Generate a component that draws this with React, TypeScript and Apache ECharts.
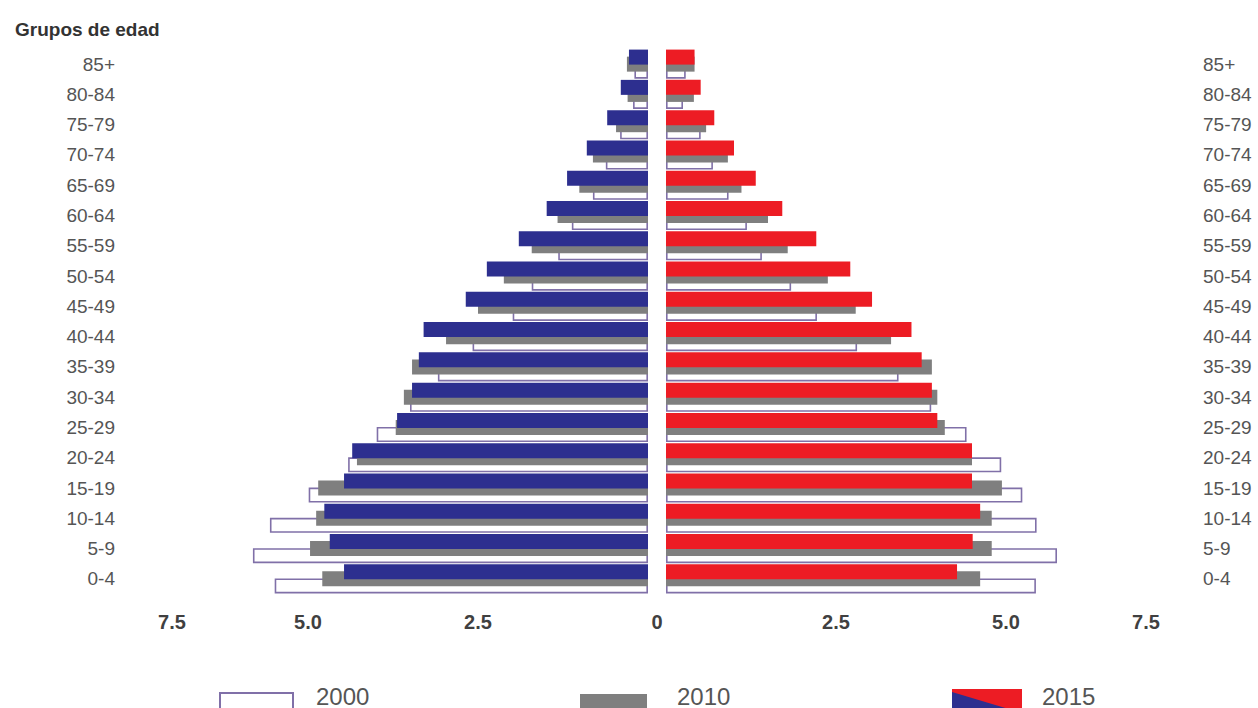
import React, { useEffect, useRef } from "react";
import * as echarts from "echarts";

const ageGroups = [
  "0-4", "5-9", "10-14", "15-19", "20-24", "25-29", "30-34", "35-39", "40-44",
  "45-49", "50-54", "55-59", "60-64", "65-69", "70-74", "75-79", "80-84", "85+",
];

// Men (left side), ordered from 0-4 up to 85+
const men2000 = [5.49, 5.81, 5.56, 4.99, 4.41, 3.99, 3.5, 3.09, 2.58, 1.99, 1.71, 1.32, 1.12, 0.81, 0.62, 0.41, 0.22, 0.2];
const men2010 = [4.79, 4.97, 4.88, 4.85, 4.28, 3.71, 3.59, 3.47, 2.97, 2.5, 2.12, 1.71, 1.33, 1.01, 0.81, 0.47, 0.3, 0.31];
const men2015 = [4.47, 4.68, 4.76, 4.47, 4.35, 3.69, 3.47, 3.37, 3.3, 2.68, 2.37, 1.9, 1.49, 1.19, 0.9, 0.6, 0.4, 0.28];

// Women (right side)
const women2000 = [5.44, 5.75, 5.45, 5.24, 4.93, 4.42, 3.9, 3.42, 2.81, 2.22, 1.84, 1.41, 1.19, 0.92, 0.69, 0.51, 0.25, 0.29];
const women2010 = [4.62, 4.79, 4.79, 4.94, 4.5, 4.1, 3.99, 3.91, 3.31, 2.79, 2.38, 1.79, 1.5, 1.11, 0.91, 0.59, 0.41, 0.42];
const women2015 = [4.28, 4.51, 4.62, 4.5, 4.5, 3.99, 3.91, 3.76, 3.61, 3.03, 2.71, 2.21, 1.71, 1.32, 1.0, 0.71, 0.51, 0.42];

const xTickValues = [0, 2.5, 5, 7.5];
const years = ["2000", "2010", "2015"];
const titleText = "Grupos de edad";

const FONT = "'Liberation Sans', Arial, Helvetica, sans-serif";
const BLUE = "#2d2f8f";
const RED = "#ed1c24";
const GRAY = "#7f7f7f";
const PURPLE = "#8070a8";

function fmtTick(v: number): string {
  return v === 0 ? "0" : v.toFixed(1);
}

export default function App() {
  const ref = useRef<HTMLDivElement>(null);

  useEffect(() => {
    if (!ref.current) return;
    const chart = echarts.init(ref.current, undefined, { renderer: "svg" });

    const barWidth = 15;
    const barGap = "-53%";

    const mkSeries = (
      name: string,
      data: number[],
      idx: number,
      color: string,
      z: number,
      outline: boolean
    ) => ({
      type: "bar",
      name,
      xAxisIndex: idx,
      yAxisIndex: idx,
      data,
      barWidth,
      barGap,
      z,
      itemStyle: outline
        ? { color: "#ffffff", borderColor: PURPLE, borderWidth: 1.6 }
        : { color },
      emphasis: { disabled: true },
    });

    const yAxisCommon = {
      type: "category",
      data: ageGroups,
      axisLine: { show: false, onZero: false },
      axisTick: { show: false },
      splitLine: { show: false },
    };

    const xAxisCommon = {
      type: "value",
      min: 0,
      max: 7.5,
      interval: 2.5,
      axisLine: { show: false },
      axisTick: { show: false },
      splitLine: { show: false },
    };

    const labelBase = {
      fontFamily: FONT,
      fontSize: 20,
      fontWeight: "bold",
      color: "#404040",
    };

    chart.setOption({
      animation: false,
      backgroundColor: "#ffffff",
      title: {
        text: titleText,
        left: 10,
        top: 15,
        textStyle: { fontFamily: FONT, fontSize: 19, fontWeight: "bold", color: "#333333" },
      },
      grid: [
        { left: 138, right: 610, top: 49, bottom: 114 },
        { left: 666, right: 82, top: 49, bottom: 114 },
      ],
      xAxis: [
        {
          ...xAxisCommon,
          gridIndex: 0,
          inverse: true,
          axisLabel: {
            margin: 18,
            formatter: (v: number) =>
              v === 0
                ? "{z|" + fmtTick(v) + "}"
                : v === xTickValues[xTickValues.length - 1]
                ? "{e|" + fmtTick(v) + "}"
                : "{n|" + fmtTick(v) + "}",
            rich: {
              n: { ...labelBase },
              z: { ...labelBase, padding: [0, 0, 0, 18] },
              e: { ...labelBase, padding: [0, 0, 0, 68] },
            },
          },
        },
        {
          ...xAxisCommon,
          gridIndex: 1,
          axisLabel: {
            margin: 18,
            formatter: (v: number) =>
              v === 0
                ? ""
                : v === xTickValues[xTickValues.length - 1]
                ? "{e|" + fmtTick(v) + "}"
                : "{n|" + fmtTick(v) + "}",
            rich: {
              n: { ...labelBase },
              e: { ...labelBase, padding: [0, 60, 0, 0] },
            },
          },
        },
      ],
      yAxis: [
        {
          ...yAxisCommon,
          gridIndex: 0,
          position: "left",
          axisLabel: { margin: 23, color: "#555555", fontSize: 19, fontFamily: FONT },
        },
        {
          ...yAxisCommon,
          gridIndex: 1,
          position: "right",
          axisLabel: { margin: 27, color: "#555555", fontSize: 19, fontFamily: FONT },
        },
      ],
      series: [
        mkSeries(years[2], men2015, 0, BLUE, 4, false),
        mkSeries(years[1], men2010, 0, GRAY, 3, false),
        mkSeries(years[0], men2000, 0, "#ffffff", 2, true),
        mkSeries(years[2], women2015, 1, RED, 4, false),
        mkSeries(years[1], women2010, 1, GRAY, 3, false),
        mkSeries(years[0], women2000, 1, "#ffffff", 2, true),
      ],
      graphic: [
        {
          type: "rect",
          shape: { x: 220, y: 693, width: 73, height: 22 },
          style: { fill: "#ffffff", stroke: PURPLE, lineWidth: 2 },
        },
        {
          type: "text",
          x: 316,
          y: 696,
          style: { text: years[0], fontFamily: FONT, fontSize: 24, fill: "#555555", verticalAlign: "middle" },
        },
        {
          type: "rect",
          shape: { x: 580, y: 694, width: 67, height: 22 },
          style: { fill: GRAY },
        },
        {
          type: "text",
          x: 677,
          y: 696,
          style: { text: years[1], fontFamily: FONT, fontSize: 24, fill: "#555555", verticalAlign: "middle" },
        },
        {
          type: "rect",
          shape: { x: 952, y: 689, width: 70, height: 24 },
          style: { fill: RED },
        },
        {
          type: "polygon",
          shape: { points: [[952, 692], [1022, 713], [952, 713]] },
          style: { fill: BLUE },
        },
        {
          type: "text",
          x: 1042,
          y: 696,
          style: { text: years[2], fontFamily: FONT, fontSize: 24, fill: "#555555", verticalAlign: "middle" },
        },
      ],
    });

    return () => chart.dispose();
  }, []);

  return (
    <div
      ref={ref}
      style={{ position: "absolute", left: 0, top: 0, width: 1258, height: 708 }}
    />
  );
}
